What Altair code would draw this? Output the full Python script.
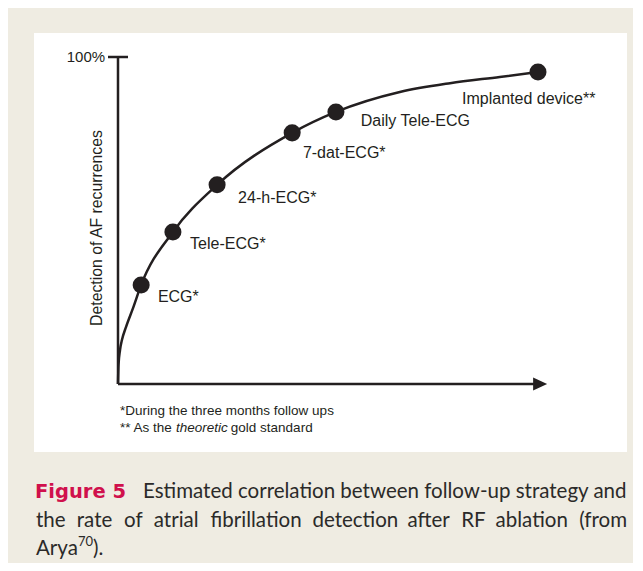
import altair as alt
import pandas as pd

# ---- data ----------------------------------------------------------------
strategies = ["ECG*", "Tele-ECG*", "24-h-ECG*", "7-dat-ECG*", "Daily Tele-ECG", "Implanted device**"]
intensity = [5.4, 12.8, 23.1, 40.6, 50.8, 97.9]          # follow-up intensity (arbitrary units, 0-100)
detection = [30.3, 46.5, 60.9, 76.8, 83.2, 95.4]         # detection of AF recurrences (%)
label_x = [9.3, 16.8, 28.0, 43.1, 56.6, 80.2]
label_y = [26.6, 42.8, 56.9, 70.6, 80.4, 87.2]

curve_x = [0, 0.12, 0.47, 0.93, 1.86, 3.5, 5.4, 12.8, 23.1, 40.6, 50.8, 65.7, 77.4, 89.0, 97.9]
curve_y = [0, 5.8, 10.4, 13.5, 17.4, 23.2, 30.3, 46.5, 60.9, 76.8, 83.2, 89.3, 92.0, 93.9, 95.4]

y_tick_value = [100]
y_tick_label = ["100%"]
y_title = "Detection of AF recurrences"
footnote_1 = "*During the three months follow ups"
footnote_2 = ["** As the ", "theoretic", " gold standard"]

caption_lead = "Figure 5"
caption_line1 = "Estimated correlation between follow-up strategy and"
caption_line2 = ["the", "rate", "of", "atrial", "fibrillation", "detection", "after", "RF", "ablation"]
caption_line2_end = "(from"
caption_line3 = ["Arya", "70", ")."]

# ---- styling ---------------------------------------------------------------
INK = "#231f20"
PINK = "#d0104c"
TXT = "#2b2a29"
SANS = "Liberation Sans, Arial, Helvetica, sans-serif"
CAP = "Lato, Open Sans, sans-serif"

xs = alt.Scale(domain=[-19.58, 118.65], nice=False, zero=False)
ys = alt.Scale(domain=[-20.8, 107.34], nice=False, zero=False)


def X(f):
    return alt.X(f, type="quantitative", scale=xs, axis=None)


def Y(f):
    return alt.Y(f, type="quantitative", scale=ys, axis=None)


pts = pd.DataFrame({"strategy": strategies, "x": intensity, "y": detection,
                    "lx": label_x, "ly": label_y})
curve = pd.DataFrame({"i": range(len(curve_x)), "x": curve_x, "y": curve_y})

axis_df = pd.DataFrame({
    "x1": [0, 0, -2.33],
    "x2": [0, 97.5, 2.33],
    "y1": [0, 0, y_tick_value[0]],
    "y2": [y_tick_value[0], 0, y_tick_value[0]],
})
arrow_df = pd.DataFrame({"x": [98.4], "y": [0]})

curve_layer = alt.Chart(curve).mark_line(
    color=INK, strokeWidth=2.5, interpolate="monotone"
).encode(x=X("x"), y=Y("y"), order="i:Q")

point_layer = alt.Chart(pts).mark_circle(size=290, color=INK, opacity=1).encode(
    x=X("x"), y=Y("y")
)

label_layer = alt.Chart(pts).mark_text(
    align="left", baseline="middle", fontSize=16, font=SANS, color=INK
).encode(x=X("lx"), y=Y("ly"), text="strategy:N")

axis_layer = alt.Chart(axis_df).mark_rule(color=INK, strokeWidth=2.5, strokeCap="butt").encode(
    x=X("x1"), x2="x2:Q", y=Y("y1"), y2="y2:Q"
)

arrow_layer = alt.Chart(arrow_df).mark_point(
    shape="M-1,-0.93L1,0L-1,0.93Z", filled=True, size=196, color=INK, opacity=1
).encode(x=X("x"), y=Y("y"))

ytick_df = pd.DataFrame({"x": [-3.0], "y": y_tick_value, "t": y_tick_label})
ytick_layer = alt.Chart(ytick_df).mark_text(
    align="right", baseline="middle", fontSize=15, font=SANS, color=INK
).encode(x=X("x"), y=Y("y"), text="t:N")

ytitle_df = pd.DataFrame({"x": [-4.9], "y": [47.7], "t": [y_title]})
ytitle_layer = alt.Chart(ytitle_df).mark_text(
    align="center", baseline="middle", angle=270, fontSize=15.8, font=SANS, color=INK
).encode(x=X("x"), y=Y("y"), text="t:N")

fn_df = pd.DataFrame({"x": [0.47, 0.47, 26.3], "y": [-8.2, -13.4, -13.4],
                      "t": [footnote_1, footnote_2[0], footnote_2[2]]})
fn_layer = alt.Chart(fn_df).mark_text(
    align="left", baseline="middle", fontSize=13.5, font=SANS, color=INK
).encode(x=X("x"), y=Y("y"), text="t:N")
fn_it_df = pd.DataFrame({"x": [13.5], "y": [-13.4], "t": [footnote_2[1]]})
fn_it_layer = alt.Chart(fn_it_df).mark_text(
    align="left", baseline="middle", fontSize=13.5, font=SANS, fontStyle="italic", color=INK
).encode(x=X("x"), y=Y("y"), text="t:N")

# ---- caption (pixel layout below the plot panel) ---------------------------
PX = alt.X("px:Q", scale=None, axis=None)
PY = alt.Y("py:Q", scale=None, axis=None)

cap_lead_df = pd.DataFrame({"px": [1], "py": [465], "t": [caption_lead]})
cap_lead = alt.Chart(cap_lead_df).mark_text(
    align="left", baseline="alphabetic", fontSize=19.5, font="DejaVu Sans, sans-serif",
    fontWeight="bold", color=PINK
).encode(x=PX, y=PY, text="t:N")

line2_px = [2, 42.8, 90, 119.8, 176.6, 278.4, 373.4, 427.2, 461.6]
cap_df = pd.DataFrame({
    "px": [109] + line2_px + [2, 59],
    "py": [465] + [494] * len(line2_px) + [522, 522],
    "t": [caption_line1] + caption_line2 + [caption_line3[0], caption_line3[2]],
})
cap_text = alt.Chart(cap_df).mark_text(
    align="left", baseline="alphabetic", fontSize=20.5, font=CAP, color=TXT
).encode(x=PX, y=PY, text="t:N")

cap_end_df = pd.DataFrame({"px": [593], "py": [494], "t": [caption_line2_end]})
cap_end = alt.Chart(cap_end_df).mark_text(
    align="right", baseline="alphabetic", fontSize=20.5, font=CAP, color=TXT
).encode(x=PX, y=PY, text="t:N")

sup_df = pd.DataFrame({"px": [44], "py": [513], "t": [caption_line3[1]]})
cap_sup = alt.Chart(sup_df).mark_text(
    align="left", baseline="alphabetic", fontSize=13, font=CAP, color=TXT
).encode(x=PX, y=PY, text="t:N")

chart = alt.layer(
    axis_layer, arrow_layer, curve_layer, point_layer, label_layer,
    ytick_layer, ytitle_layer, fn_layer, fn_it_layer,
    cap_lead, cap_text, cap_end, cap_sup,
).properties(
    width=593, height=419,
    autosize=alt.AutoSizeParams(type="none"),
    padding={"left": 26, "top": 25, "right": 6, "bottom": 111},
    background="#efece2",
).configure_view(fill="white", strokeWidth=0)

chart.save("out.html", embed_options={"renderer": "svg", "actions": False})
